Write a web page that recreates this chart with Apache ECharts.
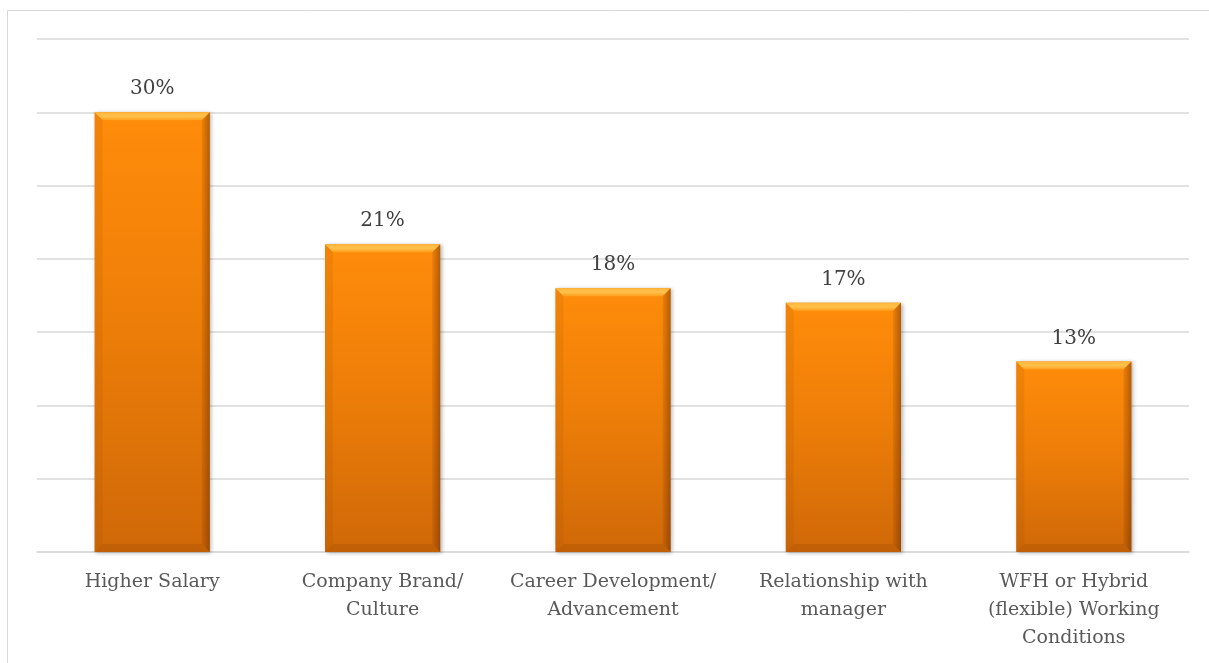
<!DOCTYPE html>
<html>
<head>
<meta charset="utf-8">
<script src="https://cdn.jsdelivr.net/npm/echarts@6/dist/echarts.min.js"></script>
<style>
  html, body { margin: 0; padding: 0; background: #ffffff; }
  #chart { width: 1209px; height: 663px; }
</style>
</head>
<body>
<div id="chart"></div>
<script>
// Reasons for choosing an employer (% of respondents)
const categories = [
  'Higher Salary',
  'Company Brand/\nCulture',
  'Career Development/\nAdvancement',
  'Relationship with\nmanager',
  'WFH or Hybrid\n(flexible) Working\nConditions'
];
const shares = [30, 21, 18, 17, 13];
const axisMax = 35;
const axisStep = 5;

const FONT = '"DejaVu Serif", "Liberation Serif", serif';
const BEVEL = 8;

// Bevelled edges laid over each bar, positioned through the axis scales
function renderBevel(params, api) {
  const idx = api.value(0);
  const v = api.value(1);
  const top = api.coord([idx, v]);
  const base = api.coord([idx, 0]);
  const w = api.size([1, 0])[0] * 0.5;
  const x0 = top[0] - w / 2, x1 = top[0] + w / 2;
  const y0 = top[1], y1 = base[1];
  const b = Math.min(BEVEL, (y1 - y0) / 2);
  return {
    type: 'group',
    silent: true,
    children: [
      {
        type: 'polygon',
        shape: { points: [[x0, y0], [x1, y0], [x1 - b, y0 + b], [x0 + b, y0 + b]] },
        style: {
          fill: new echarts.graphic.LinearGradient(0, 0, 0, 1, [
            { offset: 0, color: '#ffb53a' },
            { offset: 0.5, color: '#ffc24c' },
            { offset: 1, color: '#ff9e1e' }
          ])
        }
      },
      {
        type: 'polygon',
        shape: { points: [[x0, y0], [x0 + b, y0 + b], [x0 + b, y1 - b], [x0, y1]] },
        style: { fill: 'rgba(150, 70, 0, 0.12)' }
      },
      {
        type: 'polygon',
        shape: { points: [[x1, y0], [x1 - b, y0 + b], [x1 - b, y1 - b], [x1, y1]] },
        style: {
          fill: new echarts.graphic.LinearGradient(0, 0, 1, 0, [
            { offset: 0, color: 'rgba(110, 45, 0, 0.12)' },
            { offset: 1, color: 'rgba(90, 35, 0, 0.45)' }
          ])
        }
      },
      {
        type: 'polygon',
        shape: { points: [[x0, y1], [x0 + b, y1 - b], [x1 - b, y1 - b], [x1, y1]] },
        style: { fill: 'rgba(120, 50, 0, 0.16)' }
      }
    ]
  };
}

const chart = echarts.init(document.getElementById('chart'), null, { renderer: 'canvas' });

chart.setOption({
  backgroundColor: '#ffffff',
  animation: false,
  graphic: [
    {
      type: 'rect',
      position: [0, 0],
      shape: { x: 7.5, y: 10.5, width: 1220, height: 700 },
      style: { fill: 'none', stroke: '#d9d9d9', lineWidth: 1 },
      silent: true,
      z: -10
    }
  ],
  grid: { left: 37, right: 20, top: 39, bottom: 111, containLabel: false },
  xAxis: {
    type: 'category',
    data: categories,
    axisLine: { show: true, lineStyle: { color: '#d9d9d9', width: 1.5 } },
    axisTick: { show: false },
    axisLabel: {
      interval: 0,
      margin: 16,
      color: '#595959',
      fontFamily: FONT,
      fontSize: 19,
      lineHeight: 28
    }
  },
  yAxis: {
    type: 'value',
    min: 0,
    max: axisMax,
    interval: axisStep,
    axisLine: { show: false },
    axisTick: { show: false },
    axisLabel: { show: false },
    splitLine: { lineStyle: { color: '#d9d9d9', width: 1.5 } }
  },
  series: [
    {
      type: 'bar',
      data: shares,
      barWidth: '50%',
      itemStyle: {
        color: new echarts.graphic.LinearGradient(0, 0, 0, 1, [
          { offset: 0, color: '#ff8c0a' },
          { offset: 0.5, color: '#ec7d08' },
          { offset: 1, color: '#cf6808' }
        ]),
        shadowColor: 'rgba(0, 0, 0, 0.3)',
        shadowBlur: 4,
        shadowOffsetX: 1.5,
        shadowOffsetY: 1
      },
      label: {
        show: true,
        position: 'top',
        distance: 13,
        formatter: '{c}%',
        color: '#404040',
        fontFamily: FONT,
        fontSize: 20
      },
      z: 2
    },
    {
      type: 'custom',
      data: shares.map((v, i) => [i, v]),
      encode: { x: 0, y: 1 },
      renderItem: renderBevel,
      z: 3
    }
  ]
});
</script>
</body>
</html>
